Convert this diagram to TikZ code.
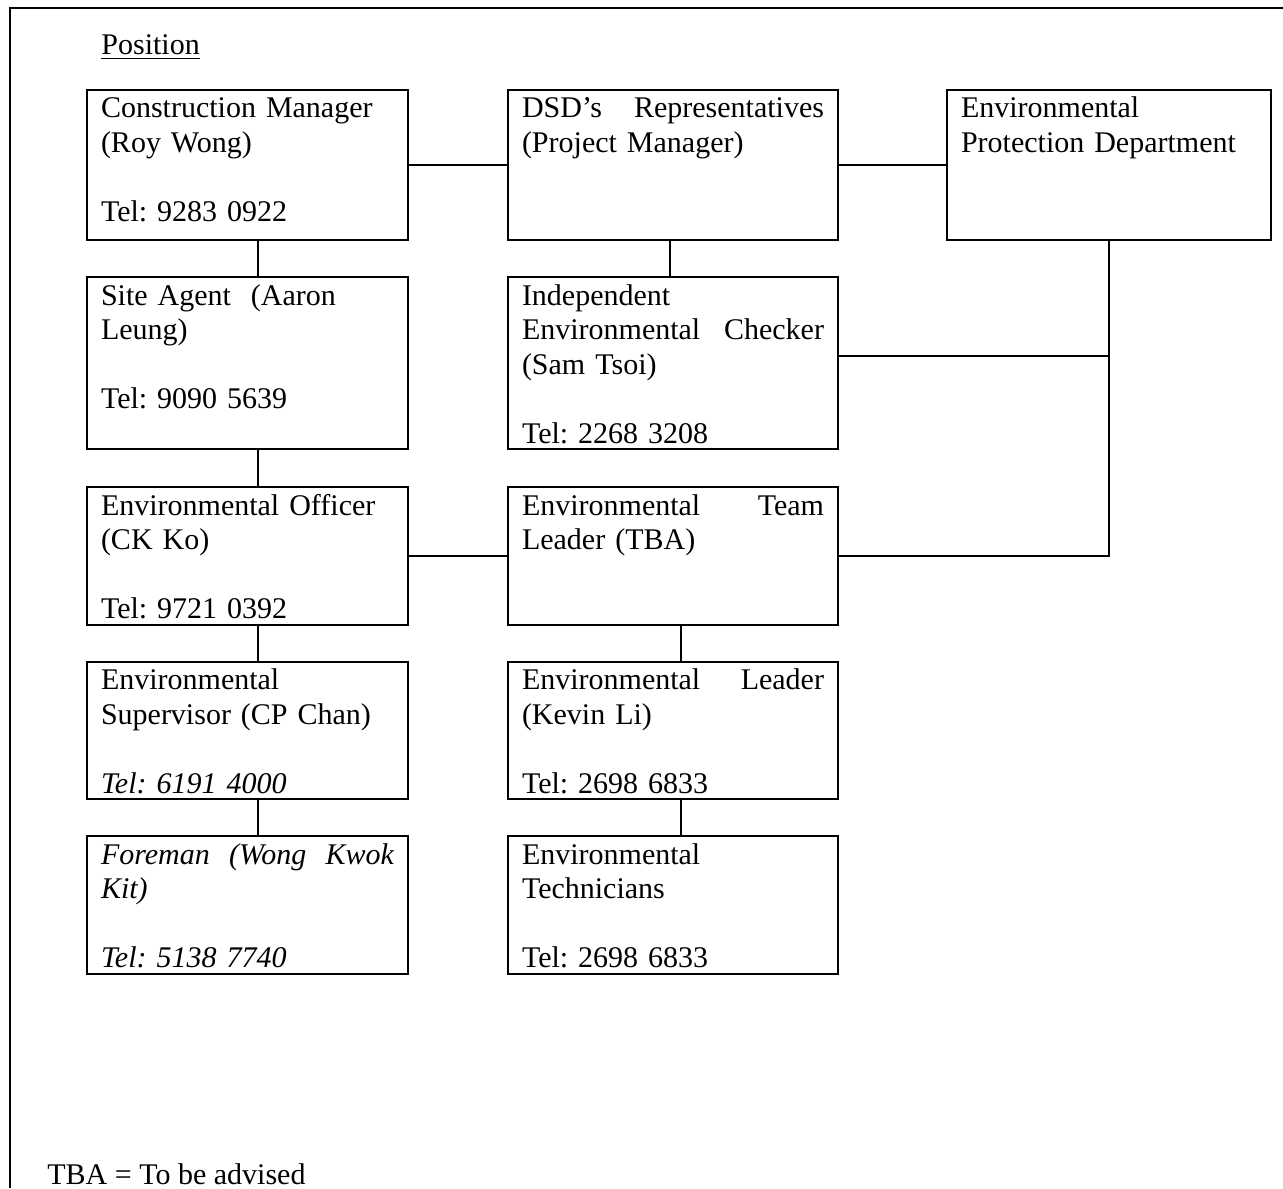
\documentclass[tikz,border=0pt]{standalone}
\usepackage{fontspec}
\setmainfont{Liberation Serif}
\usetikzlibrary{positioning}
\tikzstyle{box} = [rectangle, draw=black, line width=1pt, outer sep=0pt, inner xsep=7pt, inner ysep=0pt, align=left, text height=14pt, font=\fontsize{15}{17.25}\selectfont\frenchspacing]
\tikzstyle{colA} = [box, text width=146.5pt]
\tikzstyle{colB} = [box, text width=151pt]
\tikzstyle{colC} = [box, text width=148pt]
\tikzstyle{rowtop} = [text depth=61pt]
\tikzstyle{rowmid} = [text depth=72pt]
\tikzstyle{rowlow} = [text depth=54.75pt]
\tikzstyle{link} = [line width=1pt]
\tikzstyle{frame} = [line width=1.3pt]
\tikzstyle{note} = [inner sep=0pt, font=\fontsize{15}{17.5}\selectfont]

\begin{document}
\begin{tikzpicture}[x=0.5pt, y=-0.5pt, node distance=18.5pt]

        \useasboundingbox (0,0) rectangle (1283,1188);
        \draw [frame] (10,1188) -- (10,8) -- (1283,8);

        \node (title) [note, anchor=base west] at (101,55) {\underline{Position}};

        \node (cm) [colA, rowtop, anchor=north west] at (87,90) {Construction Manager\\(Roy Wong)\\~\\Tel: 9283 0922};
        \node (dsd) [colB, rowtop, right=50pt of cm] {DSD’s \hfill Representatives\\(Project Manager)};
        \node (epd) [colC, rowtop, right=54.5pt of dsd] {Environmental\\Protection Department};
        \node (sa) [colA, rowmid, below=of cm] {Site Agent\ \ (Aaron\\Leung)\\~\\Tel: 9090 5639};
        \node (iec) [colB, rowmid, below=of dsd] {Independent\\Environmental \hfill Checker\\(Sam Tsoi)\\~\\Tel: 2268 3208};
        \node (eo) [colA, rowlow, below=19pt of sa] {Environmental Officer\\(CK Ko)\\~\\Tel: 9721 0392};
        \node (etl) [colB, rowlow, below=19pt of iec] {Environmental \hfill Team\\Leader (TBA)};
        \node (es) [colA, rowlow, below=of eo] {Environmental\\Supervisor (CP Chan)\\~\\\textit{Tel: 6191 4000}};
        \node (el) [colB, rowlow, below=of etl] {Environmental \hfill Leader\\(Kevin Li)\\~\\Tel: 2698 6833};
        \node (fm) [colA, rowlow, below=of es] {\itshape Foreman \hfill (Wong \hfill Kwok\\Kit)\\~\\Tel: 5138 7740};
        \node (et) [colB, rowlow, below=of el] {Environmental\\Technicians\\~\\Tel: 2698 6833};

        \node (tba) [note, anchor=base west] at (47,1184) {TBA = To be advised};

        \draw [link] (cm) -- (dsd);
        \draw [link] (dsd) -- (epd);
        \draw [link] ([xshift=5.25pt]cm.south) -- ([xshift=5.25pt]sa.north);
        \draw [link] ([xshift=5.25pt]sa.south) -- ([xshift=5.25pt]eo.north);
        \draw [link] ([xshift=5.25pt]eo.south) -- ([xshift=5.25pt]es.north);
        \draw [link] ([xshift=5.25pt]es.south) -- ([xshift=5.25pt]fm.north);
        \draw [link] ([xshift=-1.5pt]dsd.south) -- ([xshift=-1.5pt]iec.north);
        \draw [link] (eo) -- (etl);
        \draw [link] ([xshift=4pt]etl.south) -- ([xshift=4pt]el.north);
        \draw [link] ([xshift=4pt]el.south) -- ([xshift=4pt]et.north);
        \draw [link] (epd.south) |- (etl.east);
        \draw [link] ([yshift=3.5pt]iec.east) -- ([yshift=3.5pt]iec.east -| epd.south);

    \end{tikzpicture}
\end{document}
